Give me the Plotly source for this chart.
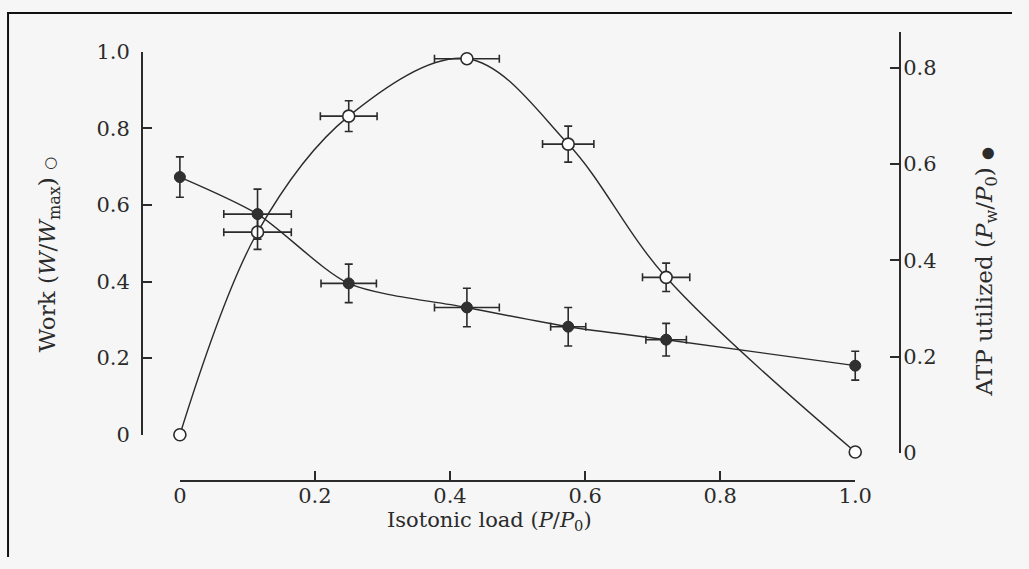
import plotly.graph_objects as go

# ---------------- data ----------------
load = [0.0, 0.115, 0.25, 0.425, 0.575, 0.72, 1.0]          # isotonic load P/P0

work = [0.0, 0.529, 0.832, 0.982, 0.759, 0.411, -0.045]      # W/Wmax (open circles, left axis)
work_err_y = [0.0, 0.045, 0.04, 0.0, 0.047, 0.037, 0.0]
work_err_x = [0.0, 0.05, 0.042, 0.048, 0.038, 0.035, 0.0]

atp = [0.573, 0.496, 0.352, 0.302, 0.262, 0.235, 0.181]       # Pw/P0 (filled circles, right axis)
atp_err_y = [0.042, 0.052, 0.04, 0.04, 0.04, 0.034, 0.03]
atp_err_x = [0.0, 0.05, 0.041, 0.048, 0.026, 0.03, 0.0]

x_ticks = [0, 0.2, 0.4, 0.6, 0.8, 1.0]
x_ticktext = ["0", "0.2", "0.4", "0.6", "0.8", "1.0"]
work_ticks = [0, 0.2, 0.4, 0.6, 0.8, 1.0]
work_ticktext = ["0", "0.2", "0.4", "0.6", "0.8", "1.0"]
atp_ticks = [0, 0.2, 0.4, 0.6, 0.8]
atp_ticktext = ["0", "0.2", "0.4", "0.6", "0.8"]

# ---------------- layout helpers ----------------
W, H = 1029, 569
# calibration of the page photograph (screen px = offset + scale * figure px)
SX, OX = 0.9776, 5.96
SY, OY = 0.9555, 12.3

def fig_x(s):
    return (s - OX) / SX
def fig_y(s):
    return (s - OY) / SY
def fx(s):          # screen px -> paper fraction (x)
    return fig_x(s) / W
def fy(s):          # screen px -> paper fraction (y)
    return 1 - fig_y(s) / H

def full_range_x(s0, s1, v0, v1):
    p0, p1 = fig_x(s0), fig_x(s1)
    k = (v1 - v0) / (p1 - p0)
    return [v0 + (0 - p0) * k, v0 + (W - p0) * k]

def full_range_y(s0, s1, v0, v1):
    p0, p1 = fig_y(s0), fig_y(s1)
    k = (v1 - v0) / (p1 - p0)
    return [v0 + (H - p0) * k, v0 + (0 - p0) * k]

# screen positions of the axes in the reference
X0_S, X1_S = 179, 855          # load 0 and 1.0
XAX_S = 480                    # x-axis line
LAX_S = 141                    # left axis line
L0_S, L1_S = 434, 52           # work 0 and 1.0
RAX_S = 900                    # right axis line
R0_S, R8_S, RTOP_S = 452, 68, 32   # atp 0, 0.8, top of axis line

INK = "#2b2b2b"
FONT = "DejaVu Serif"

fig = go.Figure()

# anchor traces for the visible axes (draw nothing)
fig.add_trace(go.Scatter(x=load, y=work, mode="none", xaxis="x", yaxis="y",
                         hoverinfo="skip", showlegend=False))
fig.add_trace(go.Scatter(x=load, y=atp, mode="none", xaxis="x", yaxis="y2",
                         hoverinfo="skip", showlegend=False))

fig.add_trace(go.Scatter(
    x=load, y=atp, xaxis="x2", yaxis="y4",
    mode="lines+markers",
    line=dict(shape="spline", smoothing=0.75, color=INK, width=1.4),
    marker=dict(symbol="circle", size=11, color="#303030", line=dict(color=INK, width=1)),
    error_y=dict(type="data", array=atp_err_y, color=INK, thickness=1.6, width=4),
    error_x=dict(type="data", array=atp_err_x, color=INK, thickness=1.6, width=4),
    cliponaxis=False, hoverinfo="skip", showlegend=False,
))

fig.add_trace(go.Scatter(
    x=load, y=work, xaxis="x2", yaxis="y3",
    mode="lines+markers",
    line=dict(shape="spline", smoothing=1.0, color=INK, width=1.4),
    marker=dict(symbol="circle", size=12, color="white", line=dict(color=INK, width=1.6)),
    error_y=dict(type="data", array=work_err_y, color=INK, thickness=1.6, width=4),
    error_x=dict(type="data", array=work_err_x, color=INK, thickness=1.6, width=4),
    cliponaxis=False, hoverinfo="skip", showlegend=False,
))

tickfont = dict(family=FONT, size=21, color=INK)
common = dict(showgrid=False, zeroline=False, showline=True, linecolor=INK, linewidth=1.6,
              ticks="inside", ticklen=9, tickwidth=1.6, tickcolor=INK,
              tickfont=tickfont, fixedrange=True)
hidden = dict(visible=False, showgrid=False, zeroline=False, fixedrange=True)

fig.update_layout(
    width=W, height=H,
    margin=dict(l=0, r=0, t=0, b=0),
    paper_bgcolor="#f6f6f6",
    plot_bgcolor="rgba(0,0,0,0)",
    showlegend=False,
    hovermode=False,
    xaxis=dict(domain=[fx(X0_S), fx(X1_S)], range=[0, 1.0],
               anchor="free", position=fy(XAX_S),
               tickvals=x_ticks, ticktext=x_ticktext, ticklabelstandoff=-4, **common),
    yaxis=dict(domain=[fy(L0_S), fy(L1_S)], range=[0, 1.0],
               anchor="free", position=fx(LAX_S), side="left",
               tickvals=work_ticks, ticktext=work_ticktext, ticklabelstandoff=7, **common),
    yaxis2=dict(domain=[fy(R0_S), fy(RTOP_S)],
                range=[0, 0.8 * (R0_S - RTOP_S) / (R0_S - R8_S)],
                anchor="free", position=fx(RAX_S), side="right",
                tickvals=atp_ticks, ticktext=atp_ticktext, ticklabelstandoff=-2, **common),
    xaxis2=dict(domain=[0, 1], range=full_range_x(X0_S, X1_S, 0.0, 1.0),
                anchor="free", position=0, **hidden),
    yaxis3=dict(domain=[0, 1], range=full_range_y(L0_S, L1_S, 0.0, 1.0),
                anchor="free", position=0, **hidden),
    yaxis4=dict(domain=[0, 1], range=full_range_y(R0_S, R8_S, 0.0, 0.8),
                anchor="free", position=0, **hidden),
)

title_font_v = dict(family=FONT, size=23, color=INK)
title_font_h = dict(family=FONT, size=21, color=INK)
fig.add_annotation(
    xref="paper", yref="paper", x=fx(48), y=fy(254),
    text="Work (<i>W</i>/<i>W</i><sub>max</sub>) <span style='font-size:15px'>○</span>",
    textangle=-90, showarrow=False, font=title_font_v,
    xanchor="center", yanchor="middle",
)
fig.add_annotation(
    xref="paper", yref="paper", x=fx(986), y=fy(272),
    text="ATP utilized (<i>P</i><sub>w</sub>/<i>P</i><sub>0</sub>) <span style='font-size:15px'>●</span>",
    textangle=-90, showarrow=False, font=title_font_v,
    xanchor="center", yanchor="middle",
)
fig.add_annotation(
    xref="paper", yref="paper", x=fx(489), y=fy(520),
    text="Isotonic load (<i>P</i>/<i>P</i><sub>0</sub>)",
    showarrow=False, font=title_font_h,
    xanchor="center", yanchor="middle",
)

# scan frame edges (top and left)
fig.add_shape(type="line", xref="paper", yref="paper",
              x0=0, x1=1, y0=0.998, y1=0.998, line=dict(color="#111", width=2))
fig.add_shape(type="line", xref="paper", yref="paper",
              x0=fx(7), x1=fx(7), y0=1, y1=0, line=dict(color="#111", width=2))

fig.write_html("out.html")
